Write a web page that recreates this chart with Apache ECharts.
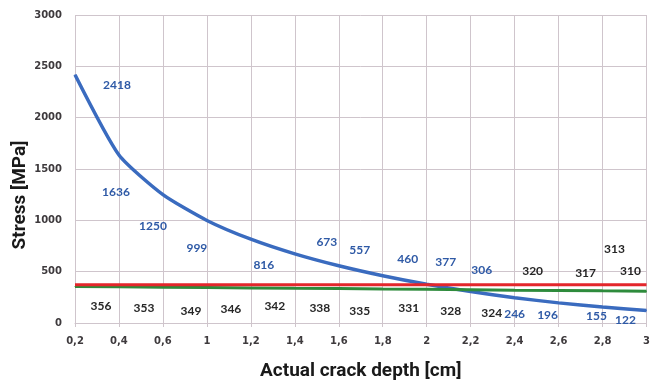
<!DOCTYPE html>
<html>
<head>
<meta charset="utf-8">
<script src="https://cdn.jsdelivr.net/npm/echarts@6/dist/echarts.min.js"></script>
<style>
  html, body { margin: 0; padding: 0; background: #fff; }
  #chart { width: 653px; height: 386px; }
</style>
</head>
<body>
<div id="chart"></div>
<script>
// Crack depth categories (cm), written with decimal commas
const depthLabels = ['0,2', '0,4', '0,6', '1', '1,2', '1,4', '1,6', '1,8', '2', '2,2', '2,4', '2,6', '2,8', '3'];
// Stress intensity at the crack tip [MPa]
const crackStress = [2418, 1636, 1250, 999, 816, 673, 557, 460, 377, 306, 246, 196, 155, 122];
// Residual stress in the section [MPa]
const sectionStress = [356, 353, 349, 346, 342, 338, 335, 331, 328, 324, 320, 317, 313, 310];
// Material limit [MPa]
const limitStress = [372, 372, 372, 372, 372, 372, 372, 372, 372, 372, 372, 372, 372, 372];
// Y-axis range and step
const yMin = 0, yMax = 3000, yStep = 500;

// Per-point label nudges (px) so labels sit clear of the lines
const blueLabelShift = [[42, 10], [-3, 37], [-10, 31], [-10, 28], [13, 26], [32, -12], [21, -16],
  [25, -17], [19, -22], [11, -21], [0, 16], [-11, 12], [-6, 9], [-21, 10]];
const greenLabelShift = [[26, 20], [25, 21], [28, 24], [24, 22], [24, 18], [25, 20], [21, 23],
  [26, 19], [24, 22], [21, 23], [18, -19], [27, -17], [12, -42], [-16, -20]];

const gridColor = '#cfc5cc';
const tickFont = { fontFamily: 'DejaVu Sans', fontWeight: 'bold', fontSize: 10, color: '#3e3a3d' };

function labelled(values, shifts) {
  return values.map((v, i) => ({
    value: v,
    label: { offset: shifts[i] }
  }));
}

const chart = echarts.init(document.getElementById('chart'), null, { renderer: 'canvas' });
chart.setOption({
  animation: false,
  backgroundColor: '#ffffff',
  grid: { left: 75, right: 6, top: 15, bottom: 61, containLabel: false },
  xAxis: {
    type: 'category',
    data: depthLabels,
    boundaryGap: false,
    name: 'Actual crack depth [cm]',
    nameLocation: 'middle',
    nameGap: 39,
    nameTextStyle: { fontFamily: 'Roboto', fontWeight: 'bold', fontSize: 19, color: '#1a1a1a' },
    axisLine: { show: true, lineStyle: { color: gridColor, width: 1 } },
    axisTick: { show: true, interval: 0, length: 4, lineStyle: { color: gridColor } },
    axisLabel: Object.assign({ interval: 0, margin: 13 }, tickFont),
    splitLine: { show: true, interval: 0, lineStyle: { color: gridColor, width: 1 } }
  },
  yAxis: {
    type: 'value',
    min: yMin,
    max: yMax,
    interval: yStep,
    axisLine: { show: false },
    axisTick: { show: false },
    axisLabel: Object.assign({ margin: 13, formatter: (v) => String(v) }, tickFont),
    splitLine: { show: true, lineStyle: { color: gridColor, width: 1 } }
  },
  graphic: [{
    type: 'text',
    x: 20,
    y: 195,
    rotation: Math.PI / 2,
    style: {
      text: 'Stress [MPa]',
      fontFamily: 'Roboto',
      fontWeight: 'bold',
      fontSize: 19,
      fill: '#1a1a1a',
      align: 'center',
      verticalAlign: 'middle'
    }
  }],
  series: [
    {
      name: 'Crack tip stress',
      type: 'line',
      data: labelled(crackStress, blueLabelShift),
      smooth: 0.2,
      symbol: 'circle',
      symbolSize: 1,
      showSymbol: true,
      itemStyle: { color: '#3a6bbf' },
      lineStyle: { color: '#3a6bbf', width: 3.5 },
      label: {
        show: true,
        position: 'inside',
        fontFamily: 'Lato',
        fontWeight: 'bold',
        fontSize: 12,
        color: '#2f5aa6'
      },
      z: 3
    },
    {
      name: 'Section stress',
      type: 'line',
      data: labelled(sectionStress, greenLabelShift),
      symbol: 'circle',
      symbolSize: 1,
      showSymbol: true,
      itemStyle: { color: '#2e8b3c' },
      lineStyle: { color: '#2e8b3c', width: 3 },
      label: {
        show: true,
        position: 'inside',
        fontFamily: 'Lato',
        fontWeight: 'bold',
        fontSize: 12,
        color: '#262626'
      },
      z: 4
    },
    {
      name: 'Limit',
      type: 'line',
      data: limitStress,
      showSymbol: false,
      symbol: 'none',
      lineStyle: { color: '#e3262b', width: 3 },
      z: 5
    }
  ]
});
</script>
</body>
</html>
